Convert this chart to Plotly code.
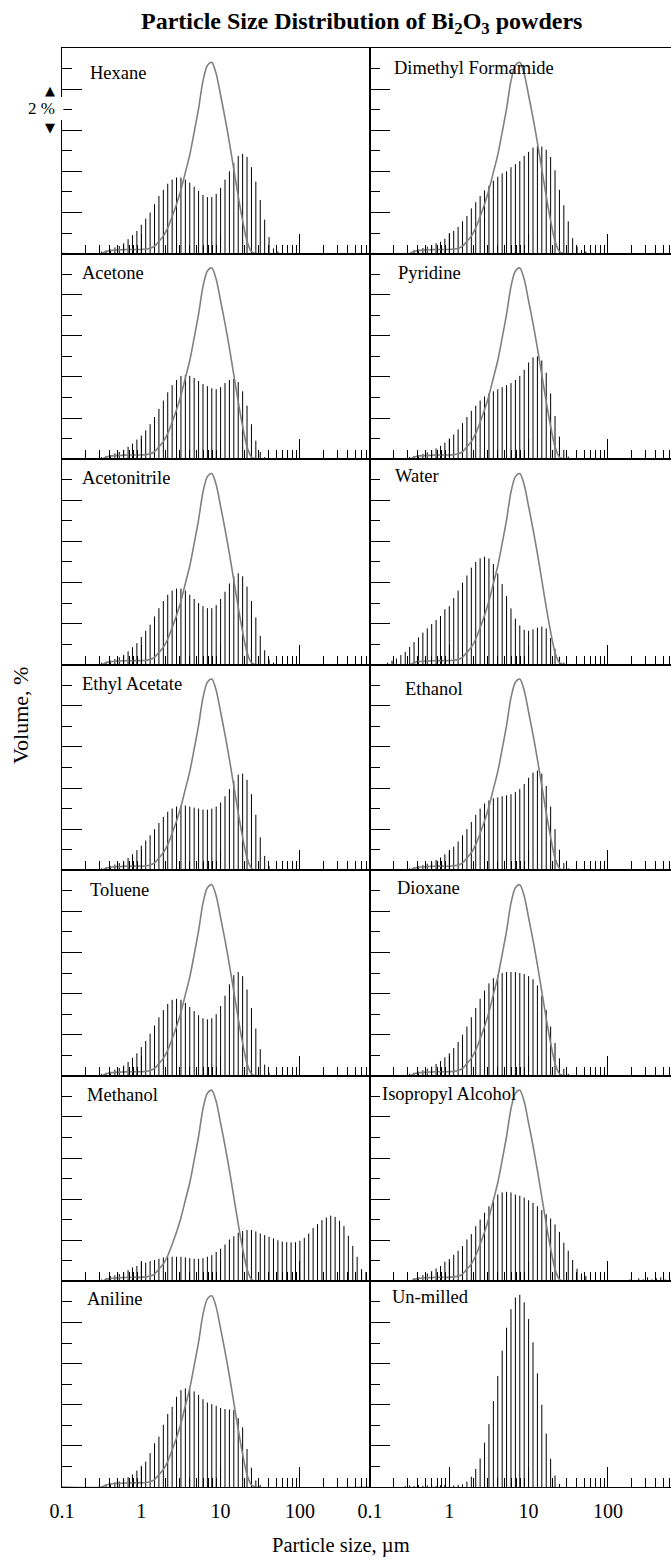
import plotly.graph_objects as go
from plotly.subplots import make_subplots

# ---------------- data ----------------
# size bins: 18 bins per decade, bin index k -> 10**(k/18) µm
BINS_PER_DECADE = 18

names = ["Hexane", "Dimethyl Formamide", "Acetone", "Pyridine",
         "Acetonitrile", "Water", "Ethyl Acetate", "Ethanol",
         "Toluene", "Dioxane", "Methanol", "Isopropyl Alcohol",
         "Aniline", "Un-milled"]

hexane_start = -9
hexane = [0.1, 0.15, 0.2, 0.3, 0.37, 0.5, 0.7, 0.9, 1.1, 1.4, 1.7, 2.0, 2.4, 2.8,
          3.1, 3.4, 3.6, 3.7, 3.7, 3.6, 3.45, 3.25, 3.05, 2.85, 2.75, 2.75, 2.9,
          3.2, 3.6, 4.0, 4.4, 4.75, 4.85, 4.7, 4.2, 3.5, 2.6, 1.65, 0.8, 0.25, 0.1]

dmf_start = -8
dmf = [0.17, 0.2, 0.27, 0.34, 0.42, 0.5, 0.58, 0.72, 1.0, 1.1, 1.3, 1.57, 1.83,
       2.2, 2.5, 2.8, 3.07, 3.3, 3.55, 3.74, 3.9, 4.0, 4.2, 4.35, 4.5, 4.75, 4.95,
       5.15, 5.25, 5.2, 5.05, 4.7, 4.05, 3.1, 2.35, 1.57, 0.75, 0.34, 0.17, 0.1]

acetone_start = -9
acetone = [0.1, 0.15, 0.2, 0.28, 0.35, 0.45, 0.6, 0.75, 0.95, 1.15, 1.4, 1.7, 2.05,
           2.45, 2.85, 3.25, 3.6, 3.85, 4.05, 4.1, 4.05, 3.95, 3.8, 3.65, 3.55,
           3.45, 3.4, 3.5, 3.7, 3.85, 3.9, 3.75, 3.3, 2.6, 1.7, 0.9, 0.35, 0.1]

pyridine_start = -9
pyridine = [0.1, 0.15, 0.2, 0.26, 0.33, 0.42, 0.52, 0.65, 0.8, 1.0, 1.2, 1.45, 1.75,
            2.05, 2.35, 2.6, 2.85, 3.05, 3.2, 3.3, 3.4, 3.5, 3.6, 3.7, 3.85, 4.05,
            4.35, 4.7, 4.95, 5.0, 4.8, 4.2, 3.2, 2.1, 1.1, 0.45, 0.12]

acetonitrile_start = -9
acetonitrile = [0.1, 0.15, 0.2, 0.28, 0.36, 0.48, 0.65, 0.85, 1.05, 1.35, 1.65, 1.95,
                2.35, 2.75, 3.1, 3.4, 3.6, 3.7, 3.7, 3.6, 3.4, 3.2, 3.0, 2.85, 2.75,
                2.75, 2.9, 3.2, 3.55, 3.95, 4.3, 4.45, 4.3, 3.8, 3.1, 2.3, 1.4, 0.7,
                0.25, 0.1]

water_start = -14
water = [0.1, 0.2, 0.3, 0.47, 0.63, 0.87, 1.1, 1.33, 1.56, 1.77, 1.98, 2.17, 2.37,
         2.7, 2.85, 3.24, 3.6, 3.99, 4.34, 4.72, 5.0, 5.17, 5.25, 5.17, 4.9, 4.44,
         3.92, 3.34, 2.74, 2.24, 1.91, 1.7, 1.65, 1.72, 1.8, 1.85, 1.77, 1.3, 0.78,
         0.39, 0.1]

ethyl_acetate_start = -9
ethyl_acetate = [0.1, 0.15, 0.2, 0.28, 0.35, 0.45, 0.6, 0.78, 0.98, 1.2, 1.45, 1.7,
                 2.0, 2.3, 2.6, 2.85, 3.0, 3.1, 3.15, 3.15, 3.1, 3.05, 3.0, 2.95,
                 2.95, 3.0, 3.1, 3.3, 3.6, 3.95, 4.35, 4.65, 4.7, 4.4, 3.7, 2.7, 1.6,
                 0.7, 0.2]

ethanol_start = -9
ethanol = [0.1, 0.15, 0.2, 0.25, 0.32, 0.4, 0.5, 0.62, 0.78, 0.95, 1.15, 1.4, 1.7,
           2.0, 2.35, 2.7, 3.0, 3.25, 3.4, 3.5, 3.55, 3.6, 3.65, 3.7, 3.8, 3.95, 4.2,
           4.5, 4.75, 4.85, 4.7, 4.1, 3.1, 2.0, 1.0, 0.35, 0.1]

toluene_start = -9
toluene = [0.1, 0.15, 0.2, 0.3, 0.38, 0.5, 0.68, 0.88, 1.1, 1.4, 1.7, 2.05, 2.45,
           2.85, 3.2, 3.5, 3.7, 3.75, 3.7, 3.55, 3.35, 3.15, 2.95, 2.8, 2.75, 2.8,
           3.0, 3.4, 3.9, 4.45, 4.9, 5.05, 4.85, 4.2, 3.3, 2.3, 1.3, 0.55, 0.15]

dioxane_start = -9
dioxane = [0.1, 0.15, 0.2, 0.27, 0.35, 0.45, 0.58, 0.72, 0.9, 1.1, 1.35, 1.65, 2.0,
           2.4, 2.85, 3.3, 3.75, 4.15, 4.5, 4.75, 4.9, 5.0, 5.05, 5.05, 5.05, 5.0,
           4.95, 4.85, 4.7, 4.4, 3.9, 3.2, 2.4, 1.6, 0.85, 0.35, 0.1]

methanol_start = -9
methanol = [0.1, 0.15, 0.26, 0.3, 0.36, 0.42, 0.55, 0.68, 0.75,
            0.96, 0.91, 0.99, 1.04, 1.1, 1.17, 1.2, 1.2, 1.2, 1.2,
            1.17, 1.13, 1.1, 1.1, 1.13, 1.2, 1.28, 1.43, 1.59, 1.8,
            2.04, 2.2, 2.37, 2.45, 2.5, 2.5, 2.43, 2.33, 2.25, 2.17,
            2.09, 2.0, 1.94, 1.91, 1.9, 1.91, 1.98, 2.12, 2.33, 2.6,
            2.79, 2.98, 3.11, 3.2, 3.14, 2.95, 2.69, 2.22, 1.73, 1.2,
            0.6, 0.45]

ipa_start = -8
ipa = [0.15, 0.2, 0.31, 0.39, 0.5, 0.63, 0.75, 0.96,
       1.09, 1.3, 1.49, 1.72, 2.04, 2.3, 2.69, 3.01, 3.34, 3.66,
       3.92, 4.23, 4.33, 4.36, 4.33, 4.23, 4.17, 4.08, 3.95, 3.82,
       3.66, 3.47, 3.27, 3.06, 2.77, 2.41, 1.88, 1.49, 1.04, 0.62,
       0.39, 0.26, 0, 0, 0, 0, 0, 0, 0, 0, 0,
       0.1, 0.05, 0.15, 0.1, 0.2, 0.1, 0.15, 0.2, 0.1, 0.15]

aniline_start = -8
aniline = [0.11, 0.16, 0.23, 0.27, 0.35, 0.48, 0.6, 0.8,
           1.03, 1.23, 1.65, 2.13, 2.45, 3.03, 3.55, 3.9, 4.39, 4.71,
           4.8, 4.76, 4.65, 4.48, 4.27, 4.11, 4.03, 3.95, 3.84, 3.79,
           3.77, 3.74, 3.35, 2.9, 1.85, 0.94, 0.32, 0.1]

unmilled_start = -10
unmilled = [0.05, 0.08, 0.05, 0.1, 0.06, 0.08, 0.1, 0.05, 0.08, 0.1,
            0.05, 0.08, 0.1, 0.13, 0.26, 0.5, 0.88, 1.39, 2.16, 3.06,
            4.18, 5.4, 6.63, 7.75, 8.65, 9.22, 9.35, 8.98, 8.17, 7.04,
            5.53, 4.0, 2.6, 1.37, 0.56, 0.15]

# smoothed un-milled reference curve (grey), same bin grid
ref_curve_start = -9
ref_curve = [0.0, 0.1, 0.15, 0.17, 0.18, 0.19, 0.2, 0.2, 0.2, 0.2, 0.22, 0.26,
             0.36, 0.6, 0.85, 1.25, 1.8, 2.4, 3.1, 3.95, 4.8, 5.9, 7.05, 8.4,
             9.15, 9.3, 8.75, 7.7, 6.6, 5.4, 4.1, 2.8, 1.6, 0.6, 0.1, 0.0]

starts = [hexane_start, dmf_start, acetone_start, pyridine_start,
          acetonitrile_start, water_start, ethyl_acetate_start, ethanol_start,
          toluene_start, dioxane_start, methanol_start, ipa_start,
          aniline_start, unmilled_start]
series = [hexane, dmf, acetone, pyridine, acetonitrile, water, ethyl_acetate,
          ethanol, toluene, dioxane, methanol, ipa, aniline, unmilled]

x_tickvals = [0.1, 1, 10, 100]
x_ticktext = ["0.1", "1", "10", "100"]
x_minor = [m * 10.0 ** e for e in (-1, 0, 1, 2) for m in range(2, 10)]

# ---------------- layout constants ----------------
W, H = 671, 1568
ML, MR, MT, MB = 62, 0, 48, 81
PW, PH = W - ML - MR, H - MT - MB
LEFT_W = 308
PX_PER_DECADE = 79.3
FONT = "Liberation Serif, Times New Roman, serif"

label_dx = [26, 22, 18, 26, 18, 23, 18, 33, 26, 25, 23, 10, 23, 20]
label_dy = [25, 20, 19, 19, 19, 17, 19.5, 24.5, 19.5, 18, 19, 18, 18, 16]


def xp(px):
    return (px - ML) / PW


def yp(py):
    return (H - MB - py) / PH


fig = make_subplots(rows=7, cols=2, horizontal_spacing=0, vertical_spacing=0,
                    column_widths=[LEFT_W, PW - LEFT_W])

row_h = PH / 7
for i, (name, s0, vals) in enumerate(zip(names, starts, series)):
    r, c = i // 2 + 1, i % 2 + 1
    xs, ys = [], []
    for j, v in enumerate(vals):
        if v <= 0:
            continue
        x = 10 ** ((s0 + j) / BINS_PER_DECADE)
        xs += [x, x, None]
        ys += [0, v, None]
    fig.add_trace(go.Scatter(x=xs, y=ys, mode="lines",
                             line=dict(color="black", width=1),
                             hoverinfo="skip", showlegend=False), row=r, col=c)
    if name != "Un-milled":
        cx = [0.1] + [10 ** ((ref_curve_start + j) / BINS_PER_DECADE)
                      for j in range(len(ref_curve))] + [1000]
        cy = [0] + ref_curve + [0]
        fig.add_trace(go.Scatter(x=cx, y=cy, mode="lines",
                                 line=dict(color="#808080", width=1.6,
                                           shape="spline", smoothing=0.8),
                                 hoverinfo="skip", showlegend=False),
                      row=r, col=c)
    # panel label
    panel_left = ML if c == 1 else ML + LEFT_W
    panel_top = MT + (r - 1) * row_h
    fig.add_annotation(text=name, xref="paper", yref="paper",
                       x=xp(panel_left + label_dx[i]),
                       y=yp(panel_top + label_dy[i]),
                       xanchor="left", yanchor="middle", showarrow=False,
                       font=dict(family=FONT, size=18.5, color="black"))

width_left = LEFT_W / PX_PER_DECADE
width_right = (PW - LEFT_W) / PX_PER_DECADE
for r in range(1, 8):
    for c in (1, 2):
        fig.update_xaxes(
            type="log",
            range=[-1, -1 + (width_left if c == 1 else width_right)],
            showline=True, linecolor="black", linewidth=1, mirror=True,
            ticks="inside", ticklen=20, tickwidth=1, tickcolor="black",
            tickmode="array", tickvals=x_tickvals, ticktext=x_ticktext,
            showticklabels=(r == 7), ticklabelstandoff=6,
            tickfont=dict(family=FONT, size=20, color="black"),
            minor=dict(tickmode="array", tickvals=x_minor, ticks="inside",
                       ticklen=9, tickwidth=1, tickcolor="black", showgrid=False),
            showgrid=False, zeroline=False, fixedrange=True,
            row=r, col=c)
        fig.update_yaxes(
            range=[0, 10],
            showline=True, linecolor="black", linewidth=1, mirror=True,
            ticks="inside", ticklen=20, tickwidth=1, tickcolor="black",
            tickmode="array", tickvals=[2, 4, 6, 8], showticklabels=False,
            minor=dict(tickmode="array", tickvals=[1, 3, 5, 7, 9],
                       ticks="inside", ticklen=10, tickwidth=1,
                       tickcolor="black", showgrid=False),
            showgrid=False, zeroline=False, fixedrange=True,
            row=r, col=c)

# title, axis titles, scale marker
fig.add_annotation(text="<b>Particle Size Distribution of Bi<sub>2</sub>O<sub>3</sub> powders</b>",
                   xref="paper", yref="paper", x=xp(361), y=yp(23),
                   xanchor="center", yanchor="middle", showarrow=False,
                   font=dict(family=FONT, size=24, color="black"))
fig.add_annotation(text="Volume, %", xref="paper", yref="paper",
                   x=xp(20), y=yp(716), textangle=-90,
                   xanchor="center", yanchor="middle", showarrow=False,
                   font=dict(family=FONT, size=22, color="black"))
fig.add_annotation(text="Particle size, µm", xref="paper", yref="paper",
                   x=xp(341), y=yp(1545), xanchor="center", yanchor="middle",
                   showarrow=False, font=dict(family=FONT, size=20.5, color="black"))
fig.add_shape(type="rect", xref="paper", yref="paper",
              x0=xp(59), x1=xp(63.4), y0=yp(97), y1=yp(120),
              fillcolor="white", line=dict(width=0), layer="above")
fig.add_annotation(text="▲", xref="paper", yref="paper", x=xp(50), y=yp(90),
                   xanchor="center", yanchor="middle", showarrow=False,
                   font=dict(family="DejaVu Sans", size=13, color="black"))
fig.add_annotation(text="▼", xref="paper", yref="paper", x=xp(50), y=yp(127),
                   xanchor="center", yanchor="middle", showarrow=False,
                   font=dict(family="DejaVu Sans", size=13, color="black"))
fig.add_annotation(text="2 %", xref="paper", yref="paper", x=xp(41), y=yp(108),
                   xanchor="center", yanchor="middle", showarrow=False,
                   font=dict(family=FONT, size=17, color="black"))

fig.update_layout(width=W, height=H,
                  margin=dict(l=ML, r=MR, t=MT, b=MB, pad=0),
                  paper_bgcolor="white", plot_bgcolor="white",
                  showlegend=False)

fig.write_html("out.html")
